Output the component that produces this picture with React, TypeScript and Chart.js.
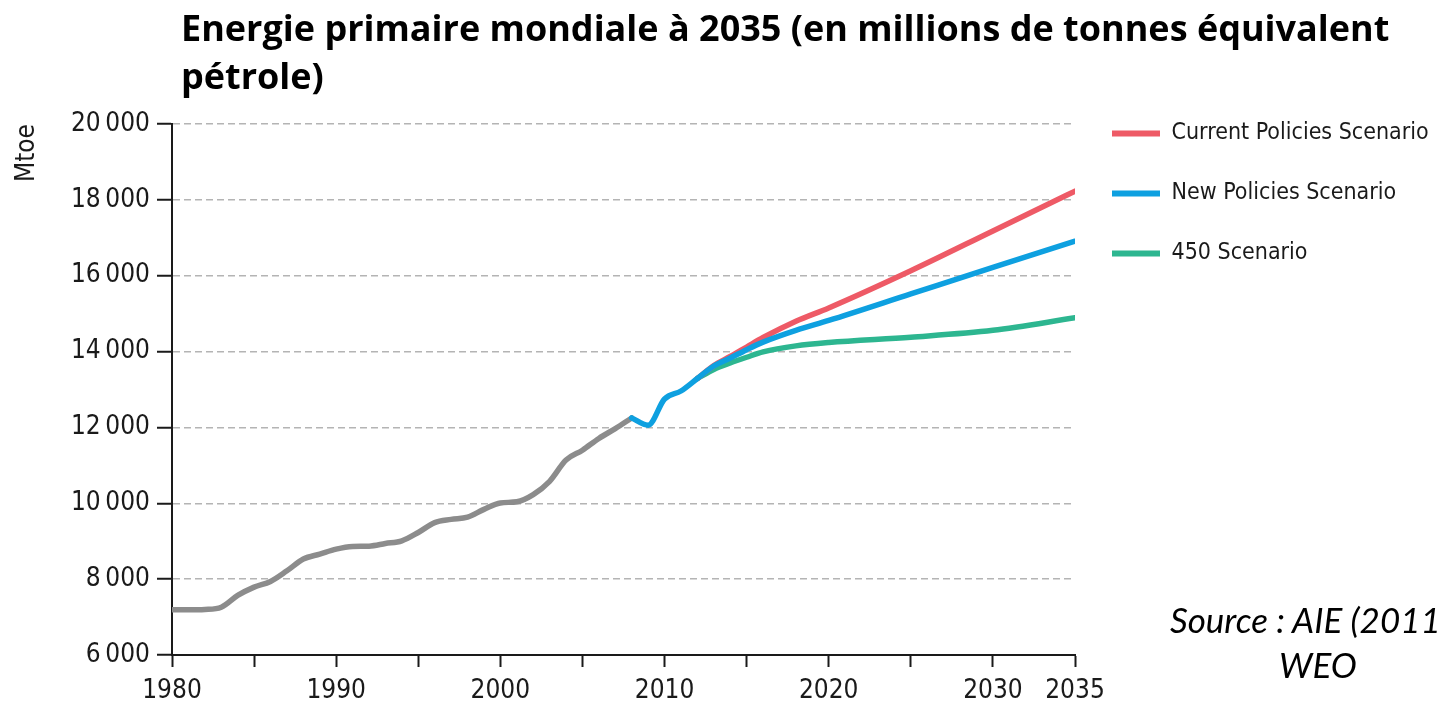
import React, { useEffect, useRef } from 'react';
import { Chart, registerables } from 'chart.js';

Chart.register(...registerables);

// ---- Data ----
const historyYears = [1980, 1981, 1982, 1983, 1984, 1985, 1986, 1987, 1988, 1989, 1990, 1991, 1992, 1993, 1994, 1995, 1996, 1997, 1998, 1999, 2000, 2001, 2002, 2003, 2004, 2005, 2006, 2007, 2008];
const historyValues = [7190, 7190, 7200, 7260, 7570, 7790, 7940, 8220, 8530, 8660, 8790, 8860, 8870, 8940, 9010, 9230, 9490, 9575, 9635, 9840, 10010, 10040, 10230, 10580, 11140, 11400, 11710, 11970, 12250];

const newPoliciesYears = [2008, 2009, 2010, 2011, 2012, 2013, 2014, 2015, 2016, 2018, 2020, 2025, 2030, 2035];
const newPoliciesValues = [12250, 12060, 12750, 12960, 13290, 13620, 13830, 14050, 14250, 14560, 14820, 15520, 16220, 16910];

const currentPoliciesYears = [2012, 2013, 2014, 2015, 2016, 2018, 2020, 2025, 2030, 2035];
const currentPoliciesValues = [13290, 13630, 13870, 14120, 14370, 14800, 15150, 16130, 17180, 18230];

const scenario450Years = [2012, 2013, 2014, 2015, 2016, 2018, 2020, 2025, 2030, 2035];
const scenario450Values = [13290, 13530, 13700, 13850, 13990, 14150, 14240, 14380, 14560, 14890];

const seriesLabels = ['Current Policies Scenario', 'New Policies Scenario', '450 Scenario'];

const yTickValues = [6000, 8000, 10000, 12000, 14000, 16000, 18000, 20000];
const xTickYears = [1980, 1985, 1990, 1995, 2000, 2005, 2010, 2015, 2020, 2025, 2030, 2035];
const xLabeledYears = [1980, 1990, 2000, 2010, 2020, 2030, 2035];

const titleLines = ['Energie primaire mondiale à 2035 (en millions de tonnes équivalent', 'pétrole)'];
const yAxisTitle = 'Mtoe';
const sourceLines = ['Source : AIE (2011', 'WEO'];

// ---- Styles ----
const AXIS_FONT = '"Liberation Sans Narrow", "DejaVu Sans Condensed", "Roboto Condensed", "Liberation Sans", sans-serif';
const TEXT_COLOR = '#1a1a1a';
const RED = '#ee5a66';
const BLUE = '#0ea0e0';
const GREEN = '#2db690';
const GREY = '#8c8c8c';
const LEGEND_FONT_SIZE = 23;
const LEGEND_PADDING = 37;

const toPoints = (xs: number[], ys: number[]) => xs.map((x, i) => ({ x, y: ys[i] }));
const formatThousands = (v: number) => String(v).replace(/\B(?=(\d{3})+(?!\d))/g, '\u2009');

export default function App() {
  const canvasRef = useRef<HTMLCanvasElement | null>(null);

  useEffect(() => {
    const canvas = canvasRef.current;
    if (!canvas) return;

    // size the legend so that the plot area ends where the reference's does
    const m = document.createElement('canvas').getContext('2d')!;
    m.font = `normal ${LEGEND_FONT_SIZE}px ${AXIS_FONT}`;
    const textW = Math.max(...seriesLabels.map((t) => m.measureText(t).width));
    const legendW = LEGEND_PADDING + 48 + LEGEND_FONT_SIZE / 2 + textW + 10;
    const padRight = Math.max(0, 366 - legendW);

    const lineStyle = {
      borderWidth: 5.5,
      pointRadius: 0,
      borderCapStyle: 'round' as const,
      borderJoinStyle: 'round' as const,
      cubicInterpolationMode: 'monotone' as const,
      fill: false,
    };

    const chart = new Chart(canvas, {
      type: 'line',
      data: {
        datasets: [
          { ...lineStyle, label: seriesLabels[0], data: toPoints(currentPoliciesYears, currentPoliciesValues), borderColor: RED, backgroundColor: RED, order: 1 },
          { ...lineStyle, label: seriesLabels[1], data: toPoints(newPoliciesYears, newPoliciesValues), borderColor: BLUE, backgroundColor: BLUE, order: 0 },
          { ...lineStyle, label: seriesLabels[2], data: toPoints(scenario450Years, scenario450Values), borderColor: GREEN, backgroundColor: GREEN, order: 2 },
          { ...lineStyle, label: 'Historique', data: toPoints(historyYears, historyValues), borderColor: GREY, backgroundColor: GREY, order: 3 },
        ],
      },
      options: {
        animation: false,
        responsive: false,
        maintainAspectRatio: false,
        layout: { padding: { top: 85, right: padRight, left: 0, bottom: 0 } },
        plugins: {
          tooltip: { enabled: false },
          title: { display: false },
          legend: {
            position: 'right',
            align: 'start',
            maxWidth: 366,
            labels: {
              boxWidth: 48,
              boxHeight: 6,
              padding: LEGEND_PADDING,
              color: TEXT_COLOR,
              font: { family: AXIS_FONT, size: LEGEND_FONT_SIZE },
              filter: (item: any) => item.datasetIndex < 3,
              sort: (a: any, b: any) => a.datasetIndex - b.datasetIndex,
              generateLabels: (c: any) =>
                (Chart.defaults.plugins.legend.labels.generateLabels as any)(c).map((l: any) => ({
                  ...l,
                  lineWidth: 0,
                  fillStyle: l.strokeStyle,
                })),
            },
          },
        },
        scales: {
          x: {
            type: 'linear',
            min: 1980,
            max: 2035,
            afterBuildTicks: (s: any) => {
              s.ticks = xTickYears.map((v) => ({ value: v }));
            },
            afterFit: (s: any) => {
              s.height = 51;
            },
            ticks: {
              autoSkip: false,
              maxRotation: 0,
              padding: 9,
              color: TEXT_COLOR,
              font: { family: AXIS_FONT, size: 26 },
              callback: (v: any) => (xLabeledYears.includes(Number(v)) ? String(v) : ''),
            },
            grid: {
              drawOnChartArea: false,
              drawTicks: true,
              tickLength: 12,
              tickWidth: 2,
              tickColor: TEXT_COLOR,
            },
            border: { display: true, color: TEXT_COLOR, width: 2 },
          },
          y: {
            type: 'linear',
            min: 6000,
            max: 20000,
            afterBuildTicks: (s: any) => {
              s.ticks = yTickValues.map((v) => ({ value: v }));
            },
            afterFit: (s: any) => {
              s.width = 172;
              s.paddingTop = 124;
            },
            ticks: {
              padding: 7,
              color: TEXT_COLOR,
              font: { family: AXIS_FONT, size: 26 },
              callback: (v: any) => formatThousands(Number(v)),
            },
            grid: {
              color: '#b4b4b4',
              lineWidth: 1.5,
              drawTicks: true,
              tickLength: 15,
              tickWidth: 2,
              tickColor: TEXT_COLOR,
              tickBorderDash: [],
            },
            border: { display: true, color: TEXT_COLOR, width: 2, dash: [7, 4] },
            title: {
              display: true,
              text: yAxisTitle,
              align: 'end',
              color: TEXT_COLOR,
              font: { family: AXIS_FONT, size: 26 },
              padding: { top: 12, bottom: 0 },
            },
          },
        },
      } as any,
    });

    return () => chart.destroy();
  }, []);

  return (
    <div
      style={{
        position: 'fixed',
        left: 0,
        top: 0,
        width: 1441,
        height: 706,
        overflow: 'hidden',
        background: '#fff',
      }}
    >
      <canvas ref={canvasRef} width={1441} height={706} style={{ display: 'block', position: 'absolute', left: 0, top: 0 }} />
      <div
        style={{
          position: 'absolute',
          left: 181,
          top: 4,
          fontFamily: '"Open Sans", Lato, sans-serif',
          fontWeight: 700,
          fontSize: 36,
          lineHeight: '48px',
          color: '#000',
          whiteSpace: 'nowrap',
        }}
      >
        <div>{titleLines[0]}</div>
        <div>{titleLines[1]}</div>
      </div>
      <div
        style={{
          position: 'absolute',
          left: 1170,
          top: 597,
          fontFamily: 'Lato, "Open Sans", sans-serif',
          fontStyle: 'italic',
          fontSize: 35,
          lineHeight: '44px',
          color: '#000',
          whiteSpace: 'nowrap',
        }}
      >
        {sourceLines[0]}
      </div>
      <div
        style={{
          position: 'absolute',
          left: 1218,
          width: 200,
          top: 642,
          textAlign: 'center',
          fontFamily: 'Lato, "Open Sans", sans-serif',
          fontStyle: 'italic',
          fontSize: 35,
          lineHeight: '44px',
          color: '#000',
          whiteSpace: 'nowrap',
        }}
      >
        {sourceLines[1]}
      </div>
    </div>
  );
}
